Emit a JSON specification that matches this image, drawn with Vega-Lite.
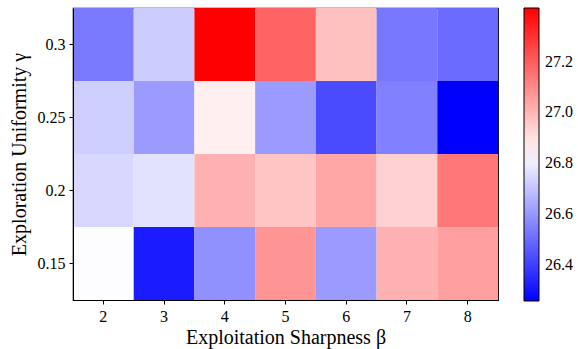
{
  "$schema": "https://vega.github.io/schema/vega-lite/v6.json",
  "width": 425,
  "height": 292,
  "autosize": {"type": "none"},
  "padding": {"left": 73, "top": 8, "right": 80, "bottom": 49},
  "background": "white",
  "config": {
    "font": "Liberation Serif",
    "view": {"stroke": "black", "strokeWidth": 1.2},
    "axis": {
      "domainColor": "black",
      "tickColor": "black",
      "tickSize": 4,
      "labelColor": "black",
      "titleColor": "black",
      "labelFontSize": 16,
      "titleFontSize": 20,
      "titleFontWeight": "normal",
      "labelFont": "Liberation Serif",
      "titleFont": "Liberation Serif",
      "labelPadding": 4,
      "grid": false
    },
    "legend": {
      "labelFont": "Liberation Serif",
      "labelFontSize": 16,
      "labelColor": "black"
    }
  },
  "data": {
    "values": [
      {"beta": 2, "gamma": 0.3, "v": 26.536},
      {"beta": 3, "gamma": 0.3, "v": 26.72},
      {"beta": 4, "gamma": 0.3, "v": 27.41},
      {"beta": 5, "gamma": 0.3, "v": 27.185},
      {"beta": 6, "gamma": 0.3, "v": 26.977},
      {"beta": 7, "gamma": 0.3, "v": 26.53},
      {"beta": 8, "gamma": 0.3, "v": 26.5},
      {"beta": 2, "gamma": 0.25, "v": 26.727},
      {"beta": 3, "gamma": 0.25, "v": 26.607},
      {"beta": 4, "gamma": 0.25, "v": 26.87},
      {"beta": 5, "gamma": 0.25, "v": 26.607},
      {"beta": 6, "gamma": 0.25, "v": 26.427},
      {"beta": 7, "gamma": 0.25, "v": 26.55},
      {"beta": 8, "gamma": 0.25, "v": 26.26},
      {"beta": 2, "gamma": 0.2, "v": 26.747},
      {"beta": 3, "gamma": 0.2, "v": 26.77},
      {"beta": 4, "gamma": 0.2, "v": 27.01},
      {"beta": 5, "gamma": 0.2, "v": 26.966},
      {"beta": 6, "gamma": 0.2, "v": 27.035},
      {"beta": 7, "gamma": 0.2, "v": 26.94},
      {"beta": 8, "gamma": 0.2, "v": 27.14},
      {"beta": 2, "gamma": 0.15, "v": 26.83},
      {"beta": 3, "gamma": 0.15, "v": 26.32},
      {"beta": 4, "gamma": 0.15, "v": 26.585},
      {"beta": 5, "gamma": 0.15, "v": 27.077},
      {"beta": 6, "gamma": 0.15, "v": 26.607},
      {"beta": 7, "gamma": 0.15, "v": 27.013},
      {"beta": 8, "gamma": 0.15, "v": 27.05}
    ]
  },
  "mark": {"type": "rect"},
  "encoding": {
    "x": {
      "field": "beta",
      "type": "ordinal",
      "scale": {"paddingInner": 0, "paddingOuter": 0},
      "axis": {"title": "Exploitation Sharpness β", "labelAngle": 0, "titlePadding": 3}
    },
    "y": {
      "field": "gamma",
      "type": "ordinal",
      "sort": "descending",
      "scale": {"paddingInner": 0, "paddingOuter": 0},
      "axis": {"title": "Exploration Uniformity γ", "titlePadding": 8}
    },
    "color": {
      "field": "v",
      "type": "quantitative",
      "scale": {
        "domain": [26.26, 26.835, 27.41],
        "range": ["#0000ff", "#ffffff", "#ff0000"],
        "interpolate": "rgb"
      },
      "legend": {
        "title": null,
        "orient": "right",
        "offset": 26,
        "gradientLength": 293,
        "gradientThickness": 15,
        "gradientStrokeColor": "black",
        "gradientStrokeWidth": 1,
        "values": [26.4, 26.6, 26.8, 27.0, 27.2],
        "format": ".1f",
        "labelOffset": 6,
        "direction": "vertical"
      }
    }
  }
}
